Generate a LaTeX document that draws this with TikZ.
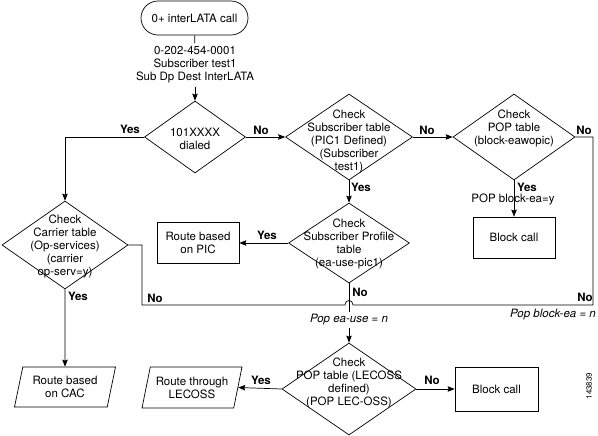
\documentclass[tikz,border=0pt]{standalone}
\usepackage{fontspec}
\setmainfont{TeX Gyre Heros}
\usetikzlibrary{shapes.geometric,arrows.meta}
\begin{document}
\begin{tikzpicture}[x=1pt,y=-1pt,
  every node/.style={font=\fontsize{11.5}{13}\selectfont},
  ln/.style={line width=0.7pt},
  arr/.style={ln,-{Stealth[length=7pt,width=5.5pt,inset=1pt]}},
  dia/.style={draw,ln,diamond,inner sep=0pt},
  box/.style={draw,ln,rectangle,inner sep=0pt,align=center},
  para/.style={draw,ln,trapezium,trapezium left angle=69,trapezium right angle=111,trapezium stretches body,inner sep=0pt,align=center},
  txt/.style={align=center,inner sep=0pt},
  yn/.style={font=\fontsize{11.5}{13}\selectfont\bfseries,inner sep=0pt},
  pop/.style={font=\fontsize{11.5}{13}\selectfont\itshape,inner sep=0pt}]
\useasboundingbox (0,0) rectangle (598,436);

% start
\node[draw,ln,rounded corners=17pt,minimum width=107pt,minimum height=34pt] (start) at (194.5,18) {0+ interLATA call};
\node[txt,inner sep=3pt] (info) at (195,65) {0-202-454-0001\\Subscriber test1\\Sub Dp Dest InterLATA};

% diamonds
\node[dia,minimum width=101pt,minimum height=72pt] (d1) at (195,137) {};
\node[txt] (t1) at (195,139) {101XXXX\\dialed};
\node[dia,minimum width=127pt,minimum height=86pt] (d2) at (349,137) {};
\node[txt] (t2) at (349,141) {Check\\Subscriber table\\(PIC1 Defined)\\(Subscriber\\test1)};
\node[dia,minimum width=122pt,minimum height=86pt] (d3) at (514,137) {};
\node[txt] (t3) at (514,128) {Check\\POP table\\(block-eawopic)};
\node[dia,minimum width=121pt,minimum height=80pt] (d4) at (349,243) {};
\node[txt] (t4) at (349,244) {Check\\Subscriber Profile\\table\\(ea-use-pic1)};
\node[dia,minimum width=126pt,minimum height=88pt] (d5) at (65,245) {};
\node[txt] (t5) at (65,246) {Check\\Carrier table\\(Op-services)\\(carrier\\op-serv=y)};
\node[dia,minimum width=134pt,minimum height=92pt] (d6) at (349,389) {};
\node[txt] (t6) at (349,383) {Check\\POP table (LECOSS\\defined)\\(POP LEC-OSS)};

% boxes
\node[box,minimum width=82pt,minimum height=41pt] (block1) at (514,237.5) {Block call};
\node[box,minimum width=82pt,minimum height=41pt] (pic) at (198,243) {Route based\\on PIC};
\node[box,minimum width=83pt,minimum height=44pt] (block2) at (496.5,389) {Block call};
\node[para,minimum width=101pt,minimum height=40pt] (cac) at (65,387) {Route based\\on CAC};
\node[para,minimum width=100pt,minimum height=41pt] (lec) at (192,387.5) {Route through\\LECOSS};

\node[pop,inner sep=2pt] (popea) at (349,320) {Pop ea-use = n};
\node[pop] (popbl) at (553,315) {Pop block-ea = n};
\node[yn] (lpoy) at (513,199) {\mdseries POP block-ea=y};

\coordinate (c1) at (142,305);
\coordinate (c2) at (593,305);
\coordinate (hl) at (345,305);
\coordinate (hr) at (353,305);

% connectors
\draw[ln] (start) -- (info);
\draw[arr] (info) -- (d1);
\draw[arr] (d1.west) -| (d5.north);
\draw[arr] (d1.east) -- (d2.west);
\draw[arr] (d2.east) -- (d3.west);
\draw[arr] (d2.south) -- (d4.north);
\draw[arr] (d3.south) -- (block1.north);
\draw[arr] (d4.west) -- (pic.east);
\draw[arr] (d5.south) -- (cac.north);
\draw[ln] (d4.south) -- (popea.north);
\draw[arr] (popea.south) -- (d6.north);
\draw[arr] (d6.west) -- (lec.east);
\draw[arr] (d6.east) -- (block2.west);
\draw[ln] (d5.east) -| (c1) -- (hl) .. controls +(0,-6) and +(0,-6) .. (hr) -- (c2) |- (d3.east);

% labels
\node[yn] (y1) at (130,129) {Yes};
\node[yn] (n1) at (261,130) {No};
\node[yn] (n2) at (427,130) {No};
\node[yn] (n3) at (584,130) {No};
\node[yn] (y2) at (361,187) {Yes};
\node[yn] (y3) at (527,187) {Yes};
\node[yn] (y4) at (267,235) {Yes};
\node[yn] (n4) at (360,292) {No};
\node[yn] (n5) at (155,298) {No};
\node[yn] (n6) at (585,297) {No};
\node[yn] (y5) at (78,296) {Yes};
\node[yn] (y6) at (261,380) {Yes};
\node[yn] (n7) at (432,380) {No};
\node[rotate=90,font=\fontsize{8}{9}\selectfont,inner sep=0pt] (fig) at (589,386) {143839};
\end{tikzpicture}
\end{document}
